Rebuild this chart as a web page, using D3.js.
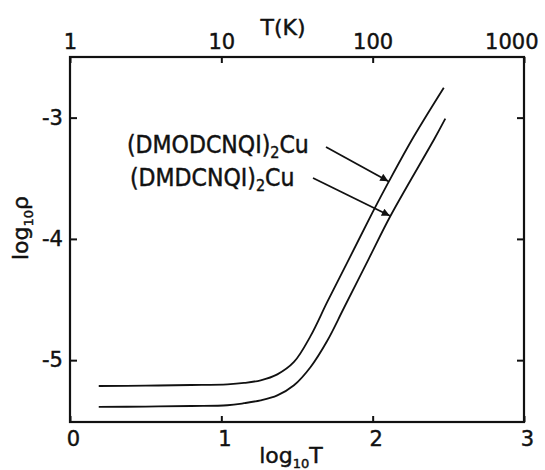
<!DOCTYPE html>
<html>
<head>
<meta charset="utf-8">
<script src="https://cdn.jsdelivr.net/npm/d3@7/dist/d3.min.js"></script>
<style>
  body { margin: 0; background: #fff; }
  text { font-family: "DejaVu Sans", sans-serif; fill: #111; stroke: #111; stroke-width: 0.45px; }
  .cond { font-family: "DejaVu Sans Condensed", "DejaVu Sans", sans-serif; font-stretch: condensed; }
</style>
</head>
<body>
<svg id="chart" width="545" height="470"></svg>
<script>
// Resistivity vs temperature, log-log, for two copper DCNQI salts
const dmodLogT   = [0.19, 0.50, 0.80, 1.04, 1.15, 1.26, 1.37, 1.48, 1.59, 1.70, 1.83, 2.00, 2.11, 2.27, 2.47];
const dmodLogRho = [-5.213, -5.210, -5.205, -5.199, -5.188, -5.166, -5.117, -5.015, -4.80, -4.52, -4.20, -3.78, -3.52, -3.16, -2.753];
const dmdLogT    = [0.19, 0.50, 0.80, 1.04, 1.15, 1.26, 1.37, 1.48, 1.59, 1.70, 1.81, 1.975, 2.12, 2.41, 2.48];
const dmdLogRho  = [-5.386, -5.383, -5.378, -5.372, -5.355, -5.331, -5.290, -5.207, -5.056, -4.84, -4.57, -4.162, -3.805, -3.17, -3.008];

const logTTicks    = [0, 1, 2, 3];
const tKelvinTicks = ["1", "10", "100", "1000"];
const logRhoTicks  = [-3, -4, -5];

const svg = d3.select("#chart");
const x = d3.scaleLinear().domain([0, 3]).range([70, 524]);
const y = d3.scaleLinear().domain([-5.51, -2.5]).range([422, 57]);

const ink = "#111";

// bottom axis: log10 T
const gB = svg.append("g").attr("transform", `translate(0,${y(-5.51)})`)
  .call(d3.axisBottom(x).tickValues(logTTicks).tickSize(-6).tickPadding(9).tickFormat(d3.format("d")));
gB.selectAll(".tick text").attr("dx", 3);
// top axis: T in kelvin
const gT = svg.append("g").attr("transform", `translate(0,${y(-2.5)})`)
  .call(d3.axisTop(x).tickValues(logTTicks).tickSize(-6).tickPadding(8).tickFormat((d, i) => tKelvinTicks[i]));
gT.selectAll(".tick text").filter(d => d === 3).attr("text-anchor", "end").attr("x", 14);
// left axis: log10 rho
const gL = svg.append("g").attr("transform", `translate(${x(0)},0)`)
  .call(d3.axisLeft(y).tickValues(logRhoTicks).tickSize(-7).tickPadding(7).tickFormat(d => "-" + Math.abs(d)));
// right axis: ticks only
const gR = svg.append("g").attr("transform", `translate(${x(3)},0)`)
  .call(d3.axisRight(y).tickValues(logRhoTicks).tickSize(-7).tickFormat(""));

[gB, gT, gL, gR].forEach(g => {
  g.select(".domain").remove();
  g.selectAll(".tick line").attr("stroke", ink).attr("stroke-width", 2);
  g.selectAll(".tick text").attr("font-size", 21).style("fill", ink);
});

// frame
svg.append("rect")
  .attr("x", x(0)).attr("y", y(-2.5))
  .attr("width", x(3) - x(0)).attr("height", y(-5.51) - y(-2.5))
  .attr("fill", "none").attr("stroke", ink).attr("stroke-width", 2.2);

// curves
const line = d3.line().x(d => x(d[0])).y(d => y(d[1])).curve(d3.curveCatmullRom.alpha(0.5));
[[dmodLogT, dmodLogRho], [dmdLogT, dmdLogRho]].forEach(([ts, rs]) => {
  svg.append("path")
    .datum(ts.map((t, i) => [t, rs[i]]))
    .attr("d", line)
    .attr("fill", "none").attr("stroke", ink).attr("stroke-width", 1.8);
});

// arrowhead
svg.append("defs").append("marker")
  .attr("id", "arrow").attr("viewBox", "0 0 10 10")
  .attr("refX", 10).attr("refY", 5)
  .attr("markerWidth", 11).attr("markerHeight", 8)
  .attr("markerUnits", "userSpaceOnUse")
  .attr("orient", "auto")
  .append("path").attr("d", "M0,0 L10,5 L0,10 z").attr("fill", ink);

// labels with arrows pointing to their curves
const labels = [
  { name: "(DMODCNQI)", tx: 127, ty: 153, from: [326, 147], tip: [dmodLogT[12], dmodLogRho[12]] },
  { name: "(DMDCNQI)",  tx: 130, ty: 186, from: [313, 178], tip: [dmdLogT[12], dmdLogRho[12]] }
];
labels.forEach(l => {
  const t = svg.append("text").attr("class", "cond").attr("x", l.tx).attr("y", l.ty).attr("font-size", 24.5);
  t.append("tspan").text(l.name);
  t.append("tspan").attr("dy", 5).attr("font-size", 16).text("2");
  t.append("tspan").attr("dy", -5).text("Cu");
  svg.append("line")
    .attr("x1", l.from[0]).attr("y1", l.from[1])
    .attr("x2", x(l.tip[0]) - 1).attr("y2", y(l.tip[1]) + 0.5)
    .attr("stroke", ink).attr("stroke-width", 1.8)
    .attr("marker-end", "url(#arrow)");
});

// axis titles
svg.append("text").attr("x", 283).attr("y", 35).attr("text-anchor", "middle")
  .attr("font-size", 22).text("T(K)");

const xt = svg.append("text").attr("x", x(1.5) - 6).attr("y", 463).attr("text-anchor", "middle").attr("font-size", 22);
xt.append("tspan").text("log");
xt.append("tspan").attr("dy", 5).attr("font-size", 13).text("10");
xt.append("tspan").attr("dy", -5).text("T");

const yt = svg.append("text")
  .attr("transform", `translate(28,228) rotate(-90)`)
  .attr("text-anchor", "middle").attr("font-size", 22);
yt.append("tspan").text("log");
yt.append("tspan").attr("dy", 5).attr("font-size", 13).text("10");
yt.append("tspan").attr("dy", -5).text("ρ");
</script>
</body>
</html>
